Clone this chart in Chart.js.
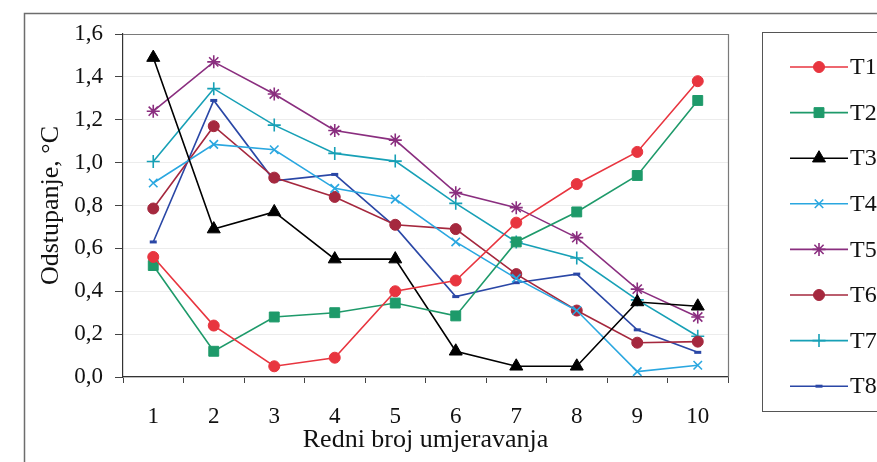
<!DOCTYPE html>
<html>
<head>
<meta charset="utf-8">
<script src="https://cdn.jsdelivr.net/npm/chart.js@4/dist/chart.umd.min.js"></script>
<style>
html,body{margin:0;padding:0;background:#fff;}
#wrap{width:877px;height:462px;position:relative;}
</style>
</head>
<body>
<div id="wrap"><canvas id="c" width="877" height="462"></canvas></div>
<script>
// ---- data ----
const categories = ['1','2','3','4','5','6','7','8','9','10'];
const seriesNames = ['T1','T2','T3','T4','T5','T6','T7','T8'];
const T1 = [0.56, 0.24, 0.05, 0.09, 0.40, 0.45, 0.72, 0.90, 1.05, 1.38];
const T2 = [0.52, 0.12, 0.28, 0.30, 0.345, 0.285, 0.63, 0.77, 0.94, 1.29];
const T3 = [1.49, 0.69, 0.77, 0.55, 0.55, 0.12, 0.05, 0.05, 0.35, 0.33];
const T4 = [0.905, 1.085, 1.06, 0.88, 0.83, 0.63, 0.46, 0.31, 0.025, 0.055];
const T5 = [1.24, 1.47, 1.32, 1.15, 1.105, 0.86, 0.79, 0.65, 0.41, 0.28];
const T6 = [0.786, 1.17, 0.93, 0.84, 0.71, 0.69, 0.48, 0.31, 0.16, 0.165];
const T7 = [1.005, 1.345, 1.175, 1.043, 1.007, 0.81, 0.63, 0.555, 0.36, 0.19];
const T8 = [0.63, 1.29, 0.915, 0.945, 0.70, 0.375, 0.44, 0.48, 0.22, 0.115];
const yTickLabels = ['0,0','0,2','0,4','0,6','0,8','1,0','1,2','1,4','1,6'];
const xTitle = 'Redni broj umjeravanja';
const yTitle = 'Odstupanje, °C';

// ---- styles ----
const seriesData = [T1, T2, T3, T4, T5, T6, T7, T8];
const colors = ['#E8353F', '#1E9A6A', '#000000', '#2AA7E0', '#8A2E7F', '#A5283E', '#17A0B6', '#2A47A6'];
const styles = ['circle', 'rect', 'triangle', 'crossRot', 'star', 'circle', 'cross', 'line'];
const radii = [5.5, 7, 7.5, 6, 6.5, 5.5, 6.5, 3.5];
const pbw = [1, 1, 1, 1.6, 1.6, 1, 1.6, 3];

const FONT = "'Liberation Serif', 'Times New Roman', serif";

const datasets = seriesNames.map((n, i) => ({
  label: n,
  data: seriesData[i],
  borderColor: colors[i],
  backgroundColor: colors[i],
  pointBackgroundColor: colors[i],
  pointBorderColor: colors[i],
  pointStyle: styles[i],
  pointRadius: radii[i],
  pointBorderWidth: pbw[i],
  borderWidth: 1.6,
  tension: 0,
  fill: false
}));

const framePlugin = {
  id: 'frame',
  beforeDraw(chart) {
    const ctx = chart.ctx;
    ctx.save();
    ctx.fillStyle = '#fff';
    ctx.fillRect(0, 0, chart.width, chart.height);
    ctx.strokeStyle = '#6d6d6d';
    ctx.lineWidth = 1.5;
    ctx.strokeRect(24.5, 13.5, 1000, 1000);
    ctx.lineWidth = 1;
    ctx.strokeStyle = '#555';
    ctx.strokeRect(762.5, 32.5, 300, 379);
    ctx.restore();
  },
  beforeDatasetsDraw(chart) {
    const {ctx, chartArea: a} = chart;
    ctx.save();
    ctx.strokeStyle = '#7a7a7a';
    ctx.lineWidth = 1.2;
    ctx.beginPath();
    ctx.moveTo(a.left, a.top + 0.5);
    ctx.lineTo(a.right + 0.5, a.top + 0.5);
    ctx.lineTo(a.right + 0.5, a.bottom);
    ctx.stroke();
    ctx.restore();
  },
  afterDraw(chart) {
    const ctx = chart.ctx;
    ctx.save();
    chart.data.datasets.forEach((ds, i) => {
      const y = 67 + i * 45.6;
      ctx.strokeStyle = ds.borderColor;
      ctx.lineWidth = 1.6;
      ctx.beginPath();
      ctx.moveTo(790, y);
      ctx.lineTo(848, y);
      ctx.stroke();
      ctx.fillStyle = ds.pointBackgroundColor;
      ctx.strokeStyle = ds.pointBorderColor;
      ctx.lineWidth = ds.pointBorderWidth;
      Chart.helpers.drawPoint(ctx, {pointStyle: ds.pointStyle, radius: ds.pointRadius, rotation: 0, borderWidth: ds.pointBorderWidth}, 819, y);
      ctx.fillStyle = '#111';
      ctx.font = '24px ' + FONT;
      ctx.textBaseline = 'middle';
      ctx.textAlign = 'left';
      ctx.fillText(ds.label, 850, y + 1);
    });
    ctx.restore();
  }
};

new Chart(document.getElementById('c'), {
  type: 'line',
  data: { labels: categories, datasets },
  plugins: [framePlugin],
  options: {
    responsive: false,
    animation: false,
    devicePixelRatio: 1,
    layout: { padding: { left: 25, right: 149, top: 34, bottom: 0 } },
    plugins: { legend: { display: false }, tooltip: { enabled: false } },
    scales: {
      x: {
        type: 'category',
        offset: true,
        grid: { offset: true, drawOnChartArea: false, tickLength: 6, color: '#444', tickColor: '#444' },
        border: { display: true, color: '#333', width: 1.2 },
        ticks: { color: '#111', font: { family: FONT, size: 23 }, padding: 20, maxRotation: 0 },
        title: { display: true, text: xTitle, color: '#111', font: { family: FONT, size: 26 }, padding: { top: 0, bottom: 6 } },
        afterFit(s) { s.height = 85; }
      },
      y: {
        min: 0, max: 1.6,
        ticks: {
          stepSize: 0.2,
          color: '#111',
          font: { family: FONT, size: 23 },
          padding: 12,
          callback: (v) => yTickLabels[Math.round(v / 0.2)]
        },
        grid: { color: '#ececec', tickColor: '#444', tickLength: 8, lineWidth: 1 },
        border: { display: true, color: '#333', width: 1.2 },
        title: { display: true, text: yTitle, color: '#111', font: { family: FONT, size: 26 }, padding: { top: 11, bottom: 0 } },
        afterFit(s) { s.width = 98; }
      }
    }
  }
});
</script>
</body>
</html>
